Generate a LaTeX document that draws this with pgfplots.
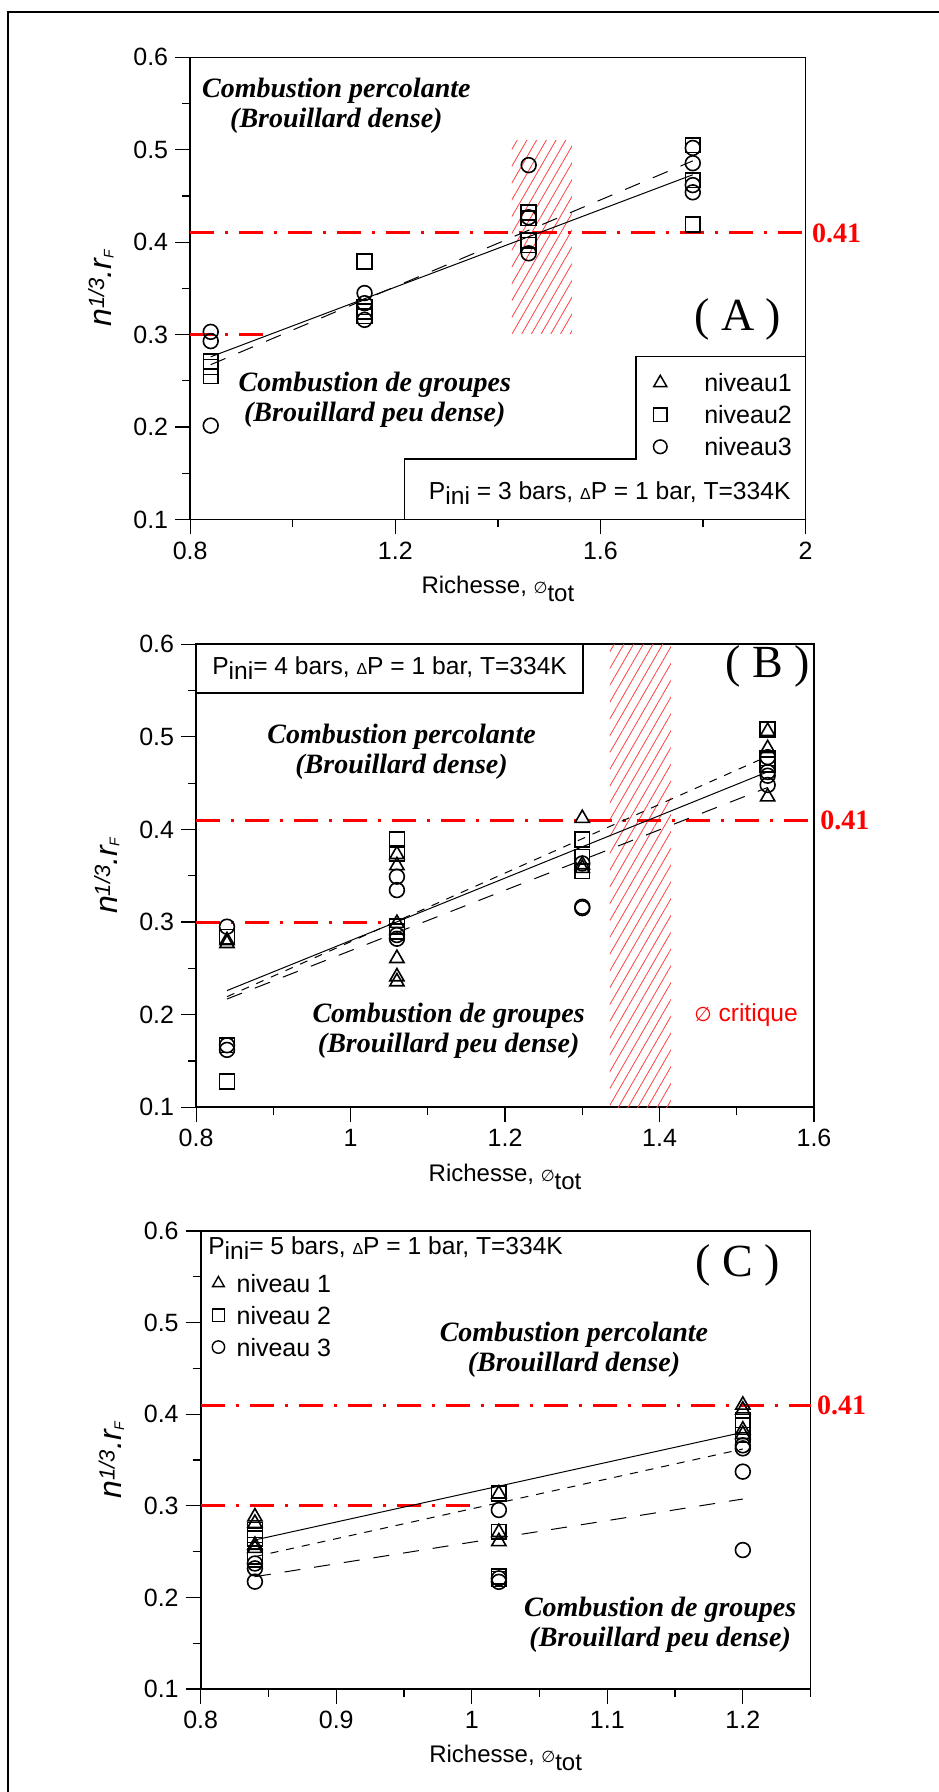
\documentclass[border=0pt]{standalone}
\usepackage{pgfplots}
\pgfplotsset{compat=1.18}
\usepackage{fontspec}
\setmainfont{Liberation Sans}
\newfontfamily\tnr{Liberation Serif}
\newfontfamily\djv{DejaVu Sans}
\usetikzlibrary{patterns.meta}

\newcommand{\ylab}{n\raisebox{3.5pt}{\fontsize{11}{11}\selectfont 1/3}.r\raisebox{-1.2pt}{\fontsize{7}{7}\selectfont F}}

\tikzset{
  combtxt/.style={font=\tnr\bfseries\itshape\fontsize{14}{15}\selectfont, align=center, inner sep=0pt},
  lettxt/.style={font=\tnr\fontsize{23}{23}\selectfont, inner sep=0pt},
  redtxt/.style={font=\tnr\bfseries\fontsize{14}{14}\selectfont, text=red, inner sep=0pt, anchor=west, xshift=3pt},
  ptxt/.style={font=\fontsize{12.3}{13}\selectfont, inner sep=0pt},
  ylabtxt/.style={rotate=90, anchor=base, inner sep=0pt, font=\fontsize{16}{16}\selectfont\itshape},
}

\pgfplotsset{
  panel/.style={
    scale only axis, anchor=south west,
    ymin=0.1, ymax=0.6,
    ytick={0.1,0.2,0.3,0.4,0.5,0.6},
    minor ytick={0.15,0.25,0.35,0.45,0.55},
    tick align=outside, tick pos=left,
    major tick length=7.5pt, minor tick length=4pt,
    every major tick/.append style={black, line width=0.6pt},
    every minor tick/.append style={black, line width=0.6pt},
    axis line style={line width=0.8pt},
    tick label style={font=\fontsize{12.5}{13}\selectfont},
    /pgf/number format/assume math mode=true,
    yticklabel style={/pgf/number format/fixed, /pgf/number format/precision=1},
    clip=false,
    xlabel={Richesse, {\djv\fontsize{8}{8}\selectfont ∅}\raisebox{-4pt}{tot}},
    xlabel style={font=\fontsize{12}{13}\selectfont, at={(axis description cs:0.5,-0.151)}, anchor=center},
    legend cell align=left,
    legend image code/.code={\draw[##1] plot coordinates {(0pt,0pt)};},
  },
  niv1/.style={only marks, mark=triangle, mark size=4.1pt, mark options={line width=0.8pt, fill=none, draw=black}, black},
  niv2/.style={only marks, mark=square, mark size=3.7pt, mark options={line width=0.8pt, fill=none, draw=black}, black},
  niv3/.style={only marks, mark=o, mark size=3.7pt, mark options={line width=0.8pt, fill=none, draw=black}, black},
  fitS/.style={black, line width=0.5pt, no marks},
  fitD/.style={black, line width=0.5pt, no marks, dash pattern=on 4pt off 4pt},
  fitL/.style={black, line width=0.5pt, no marks, dash pattern=on 8pt off 7pt},
  redl/.style={red, line width=1.5pt, no marks, dash pattern=on 12pt off 5.5pt on 1.5pt off 5.5pt},
  hatch/.style={draw=none, pattern={Lines[angle=60,distance=4.2pt,line width=0.4pt]}, pattern color=red!75, forget plot},
}

\begin{document}
\begin{tikzpicture}
\useasboundingbox (0,0) rectangle (469pt,896pt);
\draw[line width=1pt] (4pt,-2pt) -- (4pt,890pt) -- (471pt,890pt);

%%%%%%%%%%%%%%%% Panel A
\begin{axis}[panel,
  at={(95.1pt,636.25pt)}, width=307.7pt, height=231.05pt,
  xmin=0.8, xmax=2,
  xtick={0.8,1.2,1.6,2}, minor xtick={1,1.4,1.8},
  legend style={at={(axis description cs:0.7528,0.3151)}, anchor=north west,
    draw=none, fill=none, inner sep=0pt, outer sep=0pt,
    row sep=6.9pt, column sep=18.6pt,
    nodes={inner sep=0pt, text depth=0pt, font=\fontsize{12.5}{13}\selectfont}},
]
\addplot[hatch] coordinates {(1.427,0.3015) (1.544,0.3015) (1.544,0.5106) (1.427,0.5106)} -- cycle;
\addplot[redl, forget plot] coordinates {(0.8,0.41) (2,0.41)};
\addplot[redl, forget plot] coordinates {(0.8,0.3) (0.955,0.3)};
\addplot[fitS, forget plot] coordinates {(0.84,0.276) (1.78,0.473)};
\addplot[fitL, forget plot] coordinates {(0.84,0.2675) (1.78,0.488)};
\addplot[niv2, forget plot] coordinates {
 (0.84,0.271) (0.84,0.265) (0.84,0.255)
 (1.14,0.379) (1.14,0.330) (1.14,0.325) (1.14,0.320)
 (1.46,0.432) (1.46,0.426) (1.46,0.402) (1.46,0.397)
 (1.78,0.505) (1.78,0.467) (1.78,0.419)};
\addplot[niv3, forget plot] coordinates {
 (0.84,0.303) (0.84,0.293) (0.84,0.2016)
 (1.14,0.345) (1.14,0.334) (1.14,0.316)
 (1.46,0.4834) (1.46,0.427) (1.46,0.388)
 (1.78,0.502) (1.78,0.4855) (1.78,0.4618) (1.78,0.454)};
\addlegendimage{only marks, mark=triangle, mark size=3.8pt, mark options={line width=0.75pt}}
\addlegendentry{niveau1}
\addlegendimage{only marks, mark=square, mark size=3.4pt, mark options={line width=0.75pt}}
\addlegendentry{niveau2}
\addlegendimage{only marks, mark=o, mark size=3.4pt, mark options={line width=0.75pt}}
\addlegendentry{niveau3}
\draw[line width=0.8pt] (axis cs:1.2177,0.1) -- (axis cs:1.2177,0.1655) -- (axis cs:1.6696,0.1655) -- (axis cs:1.6696,0.2764) -- (axis cs:2,0.2764);
\node[ptxt] at (axis cs:1.618,0.129) {P\raisebox{-2.5pt}{ini} = 3 bars, {\fontsize{8}{8}\selectfont Δ}P = 1 bar, T=334K};
\node[combtxt] at (axis cs:1.085,0.548) {Combustion percolante\\(Brouillard dense)};
\node[combtxt] at (axis cs:1.16,0.2296) {Combustion de groupes\\(Brouillard peu dense)};
\node[lettxt] at (axis cs:1.8675,0.316) {( A )};
\node[redtxt] at (axis cs:2,0.41) {0.41};
\node[ylabtxt] at ([xshift=-39.5pt]axis cs:0.8,0.35) {\ylab};
\end{axis}

%%%%%%%%%%%%%%%% Panel B
\begin{axis}[panel,
  at={(98.05pt,342.35pt)}, width=308.95pt, height=231.55pt,
  xmin=0.8, xmax=1.6,
  xtick={0.8,1,1.2,1.4,1.6}, minor xtick={0.9,1.1,1.3,1.5},
]
\addplot[hatch] coordinates {(1.3357,0.1) (1.4147,0.1) (1.4147,0.6) (1.3357,0.6)} -- cycle;
\addplot[redl] coordinates {(0.8,0.41) (1.6,0.41)};
\addplot[redl] coordinates {(0.8,0.3) (1.05,0.3)};
\addplot[fitS] coordinates {(0.84,0.226) (1.54,0.4622)};
\addplot[fitD] coordinates {(0.84,0.2194) (1.54,0.479)};
\addplot[fitL] coordinates {(0.84,0.2169) (1.54,0.4453)};
\addplot[niv1] coordinates {
 (0.84,0.280) (0.84,0.277)
 (1.06,0.2986) (1.06,0.373) (1.06,0.361) (1.06,0.2608) (1.06,0.241) (1.06,0.2356)
 (1.3,0.412) (1.3,0.358) (1.3,0.362)
 (1.54,0.506) (1.54,0.4874) (1.54,0.4353)};
\addplot[niv2] coordinates {
 (0.84,0.284) (0.84,0.167) (0.84,0.128)
 (1.06,0.389) (1.06,0.374) (1.06,0.295) (1.06,0.290)
 (1.3,0.389) (1.3,0.3705) (1.3,0.355)
 (1.54,0.508) (1.54,0.477) (1.54,0.470)};
\addplot[niv3] coordinates {
 (0.84,0.295) (0.84,0.167) (0.84,0.162)
 (1.06,0.349) (1.06,0.3345) (1.06,0.286) (1.06,0.282)
 (1.3,0.3633) (1.3,0.3165) (1.3,0.315)
 (1.54,0.478) (1.54,0.462) (1.54,0.458) (1.54,0.448)};
\draw[line width=0.8pt] (axis cs:0.8,0.5475) rectangle (axis cs:1.301,0.6);
\node[ptxt] at (axis cs:1.0505,0.5738) {P\raisebox{-2.5pt}{ini}= 4 bars, {\fontsize{8}{8}\selectfont Δ}P = 1 bar, T=334K};
\node[combtxt] at (axis cs:1.066,0.4838) {Combustion percolante\\(Brouillard dense)};
\node[combtxt] at (axis cs:1.127,0.1828) {Combustion de groupes\\(Brouillard peu dense)};
\node[lettxt] at (axis cs:1.54,0.5755) {( B )};
\node[ptxt, text=red] at (axis cs:1.512,0.2) {{\djv\fontsize{10}{10}\selectfont ∅} critique};
\node[redtxt] at (axis cs:1.6,0.41) {0.41};
\node[ylabtxt] at ([xshift=-39.5pt]axis cs:0.8,0.35) {\ylab};
\end{axis}

%%%%%%%%%%%%%%%% Panel C
\begin{axis}[panel,
  at={(100.35pt,51.5pt)}, width=304.95pt, height=229pt,
  xmin=0.8, xmax=1.25,
  xtick={0.8,0.9,1,1.1,1.2}, minor xtick={0.85,0.95,1.05,1.15,1.25},
  legend style={at={(axis description cs:0.0189,0.9057)}, anchor=north west,
    draw=none, fill=none, inner sep=0pt, outer sep=0pt,
    row sep=6.9pt, column sep=6pt,
    nodes={inner sep=0pt, text depth=0pt, font=\fontsize{12.5}{13}\selectfont}},
]
\addplot[redl, forget plot] coordinates {(0.8,0.41) (1.25,0.41)};
\addplot[redl, forget plot] coordinates {(0.8,0.3) (1.0,0.3)};
\addplot[fitS, forget plot] coordinates {(0.84,0.2627) (1.2,0.3802)};
\addplot[fitD, forget plot] coordinates {(0.84,0.2445) (1.2,0.362)};
\addplot[fitL, forget plot] coordinates {(0.84,0.2226) (1.2,0.3074)};
\addplot[niv1, forget plot] coordinates {
 (0.84,0.288) (0.84,0.281) (0.84,0.257) (0.84,0.2536)
 (1.02,0.313) (1.02,0.271) (1.02,0.261)
 (1.2,0.41) (1.2,0.4046) (1.2,0.3828) (1.2,0.378)};
\addplot[niv2, forget plot] coordinates {
 (0.84,0.2736) (0.84,0.268) (0.84,0.2645) (0.84,0.2445) (0.84,0.241)
 (1.02,0.3136) (1.02,0.2717) (1.02,0.2226) (1.02,0.220)
 (1.2,0.3937) (1.2,0.388) (1.2,0.3773)};
\addplot[niv3, forget plot] coordinates {
 (0.84,0.237) (0.84,0.2317) (0.84,0.2172)
 (1.02,0.2954) (1.02,0.2208) (1.02,0.217)
 (1.2,0.366) (1.2,0.3627) (1.2,0.3373) (1.2,0.2517)};
\addlegendimage{only marks, mark=triangle, mark size=3.4pt, mark options={line width=0.7pt}}
\addlegendentry{niveau 1}
\addlegendimage{only marks, mark=square, mark size=3.1pt, mark options={line width=0.7pt}}
\addlegendentry{niveau 2}
\addlegendimage{only marks, mark=o, mark size=3.1pt, mark options={line width=0.7pt}}
\addlegendentry{niveau 3}
\node[ptxt, anchor=west] at (axis cs:0.8053,0.5811) {P\raisebox{-2.5pt}{ini}= 5 bars, {\fontsize{8}{8}\selectfont Δ}P = 1 bar, T=334K};
\node[combtxt] at (axis cs:1.0754,0.4701) {Combustion percolante\\(Brouillard dense)};
\node[combtxt] at (axis cs:1.139,0.1699) {Combustion de groupes\\(Brouillard peu dense)};
\node[lettxt] at (axis cs:1.1965,0.5629) {( C )};
\node[redtxt] at (axis cs:1.25,0.41) {0.41};
\node[ylabtxt] at ([xshift=-39.5pt]axis cs:0.8,0.35) {\ylab};
\end{axis}
\end{tikzpicture}
\end{document}
